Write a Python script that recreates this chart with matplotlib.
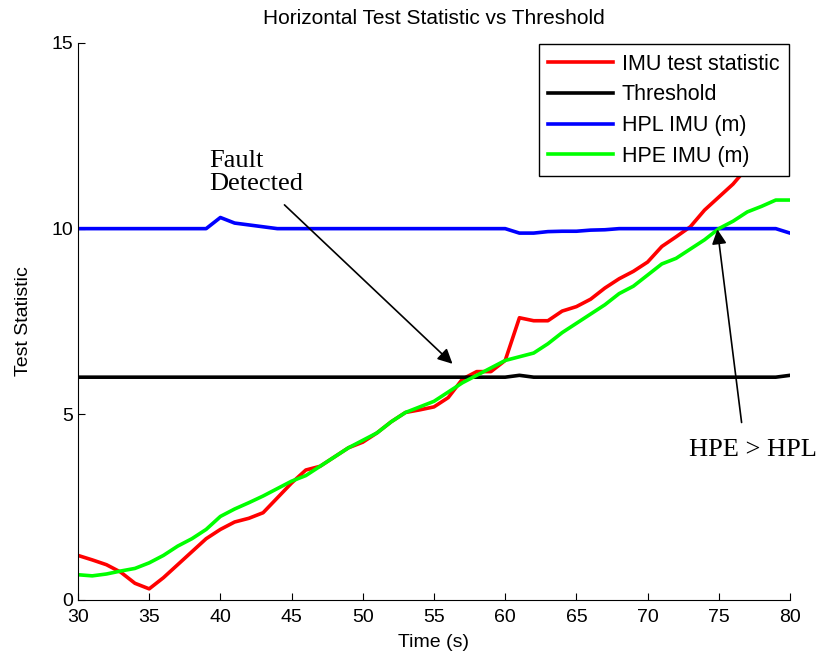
import matplotlib.pyplot as plt
import numpy as np

plt.rcParams['font.family'] = ['Liberation Sans', 'DejaVu Sans']

# time axis, one sample per second
t = np.arange(30, 81)

imu_test_stat = [1.2, 1.08, 0.95, 0.75, 0.45, 0.3, 0.6, 0.95, 1.3, 1.65,
                 1.9, 2.1, 2.2, 2.35, 2.75, 3.15, 3.5, 3.6, 3.85, 4.1,
                 4.25, 4.5, 4.8, 5.05, 5.12, 5.2, 5.45, 5.95, 6.15, 6.15,
                 6.45, 7.6, 7.52, 7.52, 7.78, 7.9, 8.1, 8.4, 8.65, 8.85,
                 9.1, 9.52, 9.78, 10.05, 10.5, 10.85, 11.2, 11.65, 12.05, 12.45,
                 12.9]

threshold = [6.0] * 31 + [6.05] + [6.0] * 18 + [6.05]

hpl_imu = [10.0] * 10 + [10.3, 10.15, 10.1, 10.05] + [10.0] * 17 + \
          [9.88, 9.88, 9.92, 9.93, 9.93, 9.96, 9.97] + [10.0] * 12 + [9.88]

hpe_imu = [0.68, 0.65, 0.7, 0.78, 0.85, 1.0, 1.2, 1.45, 1.65, 1.9,
           2.25, 2.45, 2.62, 2.8, 3.0, 3.2, 3.35, 3.6, 3.85, 4.1,
           4.3, 4.5, 4.8, 5.05, 5.2, 5.35, 5.6, 5.85, 6.05, 6.25,
           6.45, 6.55, 6.65, 6.9, 7.2, 7.45, 7.7, 7.95, 8.25, 8.45,
           8.75, 9.05, 9.2, 9.45, 9.7, 10.0, 10.2, 10.45, 10.6, 10.77,
           10.77]

fig = plt.figure(figsize=(8.19, 6.61), dpi=100)
ax = fig.add_axes([0.0952, 0.0923, 0.8694, 0.8427])

lw = 2.6
ax.plot(t, imu_test_stat, color=(1, 0, 0), lw=lw, label='IMU test statistic')
ax.plot(t, threshold, color='black', lw=lw, label='Threshold')
ax.plot(t, hpl_imu, color=(0, 0, 1), lw=lw, label='HPL IMU (m)')
ax.plot(t, hpe_imu, color=(0, 1, 0), lw=lw, label='HPE IMU (m)')

ax.set_xlim(30, 80)
ax.set_ylim(0, 15)
ax.set_xticks(range(30, 81, 5))
ax.set_yticks([0, 5, 10, 15])
ax.tick_params(direction='in', length=5, labelsize=14, width=0.8)
ax.tick_params(axis='x', pad=6.5)
ax.spines['top'].set_visible(False)
ax.spines['right'].set_visible(False)

ax.set_xlabel('Time (s)', fontsize=14, labelpad=6)
ax.set_ylabel('Test Statistic', fontsize=14, labelpad=14)
ax.set_title('Horizontal Test Statistic vs Threshold', fontsize=15, pad=14)

leg = ax.legend(loc='upper right', bbox_to_anchor=(1.0, 1.0), borderaxespad=0.05,
                fontsize=15.5, fancybox=False, framealpha=1, edgecolor='black',
                handlelength=3.0, handletextpad=0.4, labelspacing=0.45,
                borderpad=0.45)
leg.get_frame().set_linewidth(1.0)

serif = ['Liberation Serif', 'DejaVu Serif']
arrow = dict(arrowstyle='-|>', color='black', lw=1.2,
             mutation_scale=22, shrinkA=0, shrinkB=0)

ax.text(39.2, 12.12, 'Fault\nDetected', fontsize=19, family=serif,
        ha='left', va='top', linespacing=1.05)
ax.annotate('', xy=(56.3, 6.36), xytext=(44.5, 10.64), arrowprops=arrow)

ax.annotate('', xy=(74.9, 9.98), xytext=(76.6, 4.78), arrowprops=arrow)
ax.text(77.4, 4.05, 'HPE > HPL', fontsize=19, family=serif,
        ha='center', va='center', clip_on=False)

fig.savefig('out.png', dpi=100)
